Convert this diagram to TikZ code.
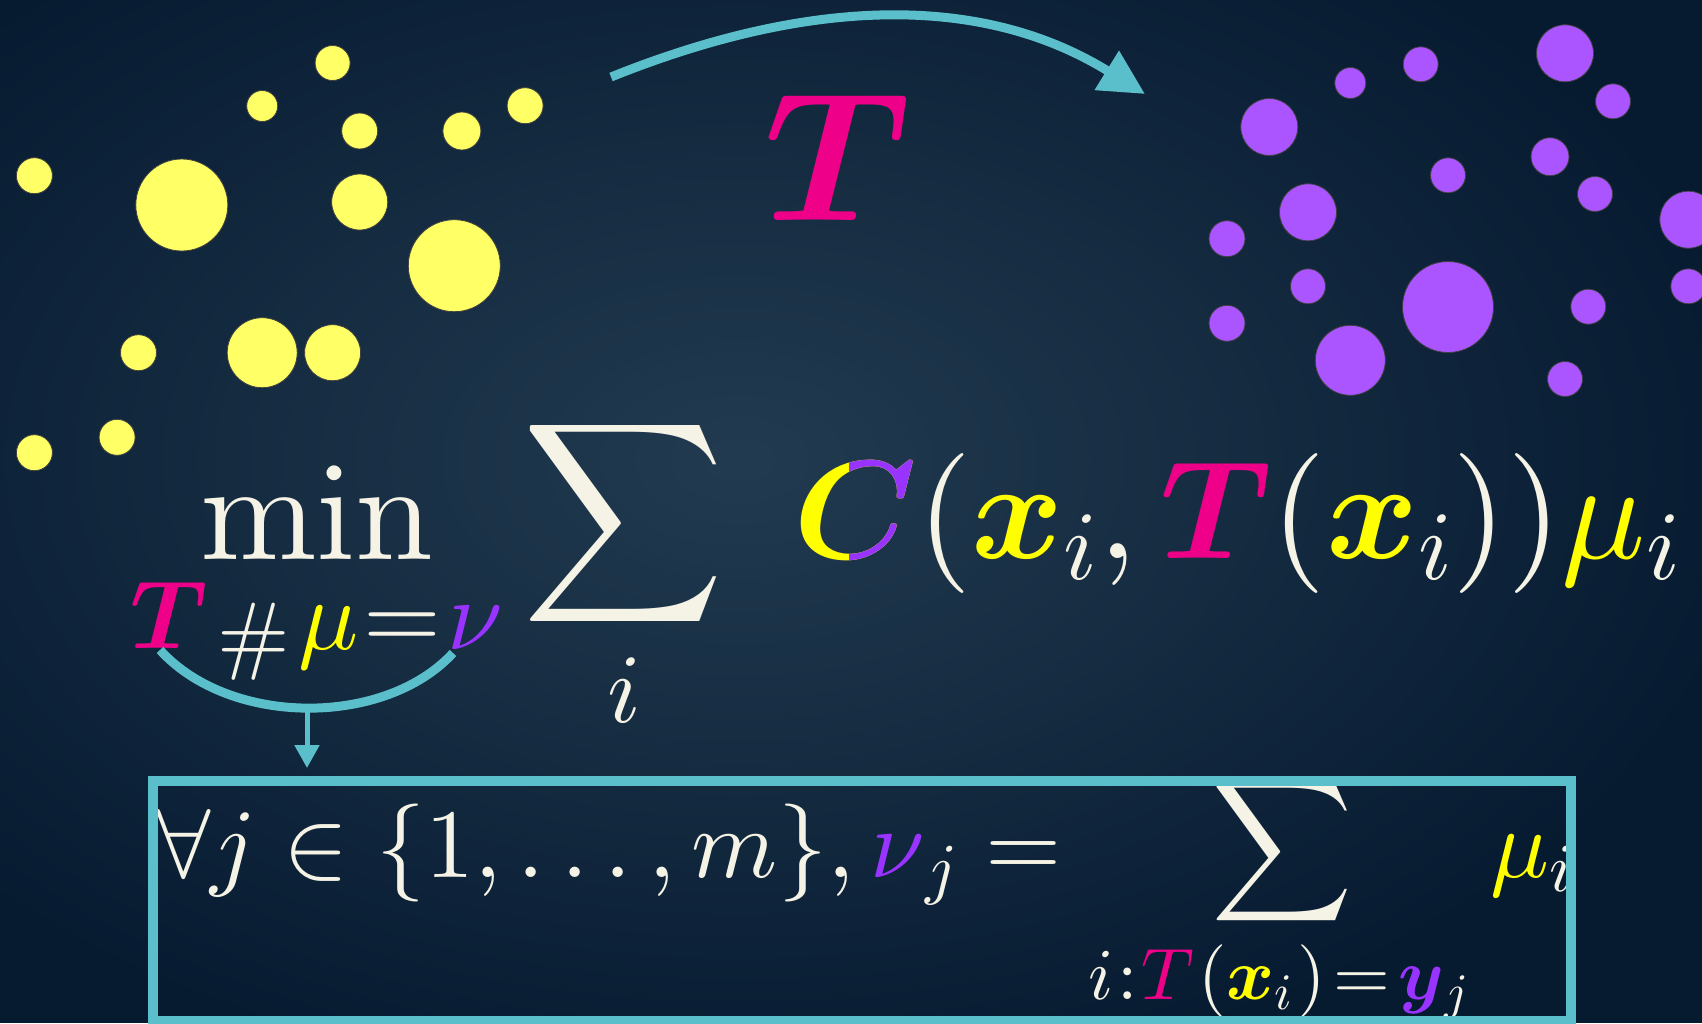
\documentclass[tikz,border=0pt]{standalone}
\usepackage{amsmath,bm}
\DeclareFontShape{OT1}{cmr}{m}{n}{<->cmr10}{}
\DeclareFontShape{OML}{cmm}{m}{it}{<->cmmi10}{}
\DeclareFontShape{OML}{cmm}{b}{it}{<->cmmib10}{}
\DeclareFontShape{OMS}{cmsy}{m}{n}{<->cmsy10}{}
\DeclareFontShape{OMX}{cmex}{m}{n}{<->cmex10}{}
\usetikzlibrary{arrows.meta}
\definecolor{bgin}{HTML}{223B50}
\definecolor{bgout}{HTML}{061A30}
\definecolor{dotY}{HTML}{FFFF66}
\definecolor{dotP}{HTML}{AA55FF}
\definecolor{txtW}{HTML}{F5F2E6}
\definecolor{txtY}{HTML}{FFFF00}
\definecolor{txtP}{HTML}{9933FF}
\definecolor{txtM}{HTML}{EE0088}
\definecolor{arrC}{HTML}{5BBFCB}
\tikzset{
  ydot/.style={circle, fill=dotY, draw=black!75, line width=0.8pt, inner sep=0pt},
  pdot/.style={circle, fill=dotP, draw=black!75, line width=0.8pt, inner sep=0pt},
  txt/.style={text=txtW, inner sep=0pt, outer sep=0pt},
  bigf/.style={font=\fontsize{140}{168}\selectfont},
  boxf/.style={font=\fontsize{98}{118}\selectfont},
  conn/.style={draw=arrC, line width=9pt},
}
\begin{document}
\begin{tikzpicture}[x=1pt,y=-1pt]
\useasboundingbox (0,0) rectangle (1702,1023);
\begin{scope}
\clip (0,0) rectangle (1702,1023);
\fill[bgout] (0,0) rectangle (1702,1023);
\foreach \i in {60,59,...,1}{
  \pgfmathsetmacro\p{100-100*\i/60}
  \pgfmathsetmacro\rx{17.5*\i}
  \pgfmathsetmacro\ry{10.833*\i}
  \fill[bgin!\p!bgout] (740,460) ellipse [x radius=\rx pt, y radius=\ry pt];
}
\end{scope}

% yellow cloud
\node[ydot, minimum size=36pt] (y1) at (34.4,175.7) {};
\node[ydot, minimum size=92pt] (y2) at (181.8,205) {};
\node[ydot, minimum size=31pt] (y3) at (262.2,106) {};
\node[ydot, minimum size=35pt] (y4) at (332.6,63) {};
\node[ydot, minimum size=36pt] (y5) at (359.7,131) {};
\node[ydot, minimum size=56pt] (y6) at (359.7,202) {};
\node[ydot, minimum size=38pt] (y7) at (461.9,131) {};
\node[ydot, minimum size=36pt] (y8) at (525.1,105.7) {};
\node[ydot, minimum size=92pt] (y9) at (454.3,265.7) {};
\node[ydot, minimum size=36pt] (y10) at (138.5,352.7) {};
\node[ydot, minimum size=70pt] (y11) at (262.2,352.7) {};
\node[ydot, minimum size=56pt] (y12) at (332.6,352.7) {};
\node[ydot, minimum size=36pt] (y13) at (34.4,452.7) {};
\node[ydot, minimum size=36pt] (y14) at (117.1,437.3) {};

% purple cloud
\node[pdot, minimum size=57pt] (pa) at (1565,53.3) {};
\node[pdot, minimum size=35pt] (pb) at (1420.7,64.3) {};
\node[pdot, minimum size=31pt] (pc) at (1350.3,83) {};
\node[pdot, minimum size=35pt] (pd) at (1613,101.3) {};
\node[pdot, minimum size=57pt] (pe) at (1269.3,127) {};
\node[pdot, minimum size=38pt] (pf) at (1550,156.7) {};
\node[pdot, minimum size=35pt] (pg) at (1448,175.3) {};
\node[pdot, minimum size=35pt] (ph) at (1595,194) {};
\node[pdot, minimum size=57pt] (pi) at (1308,212.3) {};
\node[pdot, minimum size=57pt] (pj) at (1688.3,219.7) {};
\node[pdot, minimum size=36pt] (pk) at (1227,238.7) {};
\node[pdot, minimum size=35pt] (pl) at (1308,286.3) {};
\node[pdot, minimum size=91pt] (pm) at (1448,307) {};
\node[pdot, minimum size=35pt] (pn) at (1588.3,306.7) {};
\node[pdot, minimum size=35pt] (po) at (1688.3,286.3) {};
\node[pdot, minimum size=36pt] (pp) at (1227,323.3) {};
\node[pdot, minimum size=70pt] (pq) at (1350.3,360.3) {};
\node[pdot, minimum size=35pt] (pr) at (1565,379) {};

% top arrow and T
\coordinate (tS) at (611,77);
\coordinate (tE) at (1145,94);
\draw[conn, -{Triangle[length=45pt,width=44pt]}] (tS) .. controls (815,-5) and (985,-5) .. (tE);
\node[txt, text=txtM, font=\fontsize{184}{220}\selectfont, anchor=base] (bigT) at (838,220) {$\boldsymbol{T}$};

% main formula
\node[txt, bigf, anchor=base] (minop) at (317,559) {$\min$};
\node[txt, text=txtM, font=\fontsize{97}{116}\selectfont, anchor=base west] (subT) at (130,648) {$\boldsymbol{T}$};
\node[txt, font=\fontsize{87}{104}\selectfont, anchor=base west] (subH) at (217,663) {$\#$};
\node[txt, font=\fontsize{100}{120}\selectfont, anchor=base west] (subR) at (298,649)
  {$\textcolor{txtY}{\mu}\mkern1mu\mathord{=}\mkern1mu\textcolor{txtP}{\nu}$};
\node[txt, bigf, anchor=base] (sumop) at (624,558) {$\displaystyle\sum_i$};
\node[txt, bigf, anchor=base west] (cost) at (793,558)
  {$\textcolor{txtY}{\boldsymbol{C}}(\textcolor{txtY}{\boldsymbol{x}}_i,\textcolor{txtM}{\boldsymbol{T}}(\textcolor{txtY}{\boldsymbol{x}}_i))\textcolor{txtY}{\mu}_i$};
\begin{scope}
\clip (849,400) rectangle (915,600);
\node[txt, bigf, text=txtP, anchor=base west] (costC) at (793,558) {$\boldsymbol{C}$};
\end{scope}

% brace-like curve and arrow down
\coordinate (cvL) at (160,650);
\coordinate (cvR) at (453,653);
\coordinate (cvB) at (307,710);
\draw[conn] (cvL) .. controls (230,727) and (385,727) .. (cvR);

% constraint box
\begin{scope}
\clip (158,786) rectangle (1566,1016);
\node[txt, boxf, anchor=base west] (forall) at (156,877)
  {$\forall j\in\{1,\ldots,m\},\textcolor{txtP}{\nu}_j=$};
\node[txt, boxf, anchor=base] (bsum) at (1282,877) {$\displaystyle\sum$};
\node[txt, font=\fontsize{73}{88}\selectfont, anchor=base west] (bsub) at (1088,999)
  {$i\mkern1mu{:}\mkern1mu\textcolor{txtM}{T}\mkern1mu(\textcolor{txtY}{\boldsymbol{x}}_i\mkern1mu)\mkern2mu{=}\mkern2mu\textcolor{txtP}{\boldsymbol{y}}_j$};
\node[txt, boxf, anchor=base west] (bmu) at (1490,877) {$\textcolor{txtY}{\mu}_i$};
\end{scope}
\node[draw=arrC, line width=10pt, minimum width=1418pt, minimum height=240pt, inner sep=0pt] (box) at (862,901) {};
\draw[draw=arrC, line width=5pt, -{Triangle[length=23pt,width=24pt]}, shorten >=8pt] (cvB) -- (box.north -| cvB);
\end{tikzpicture}
\end{document}
